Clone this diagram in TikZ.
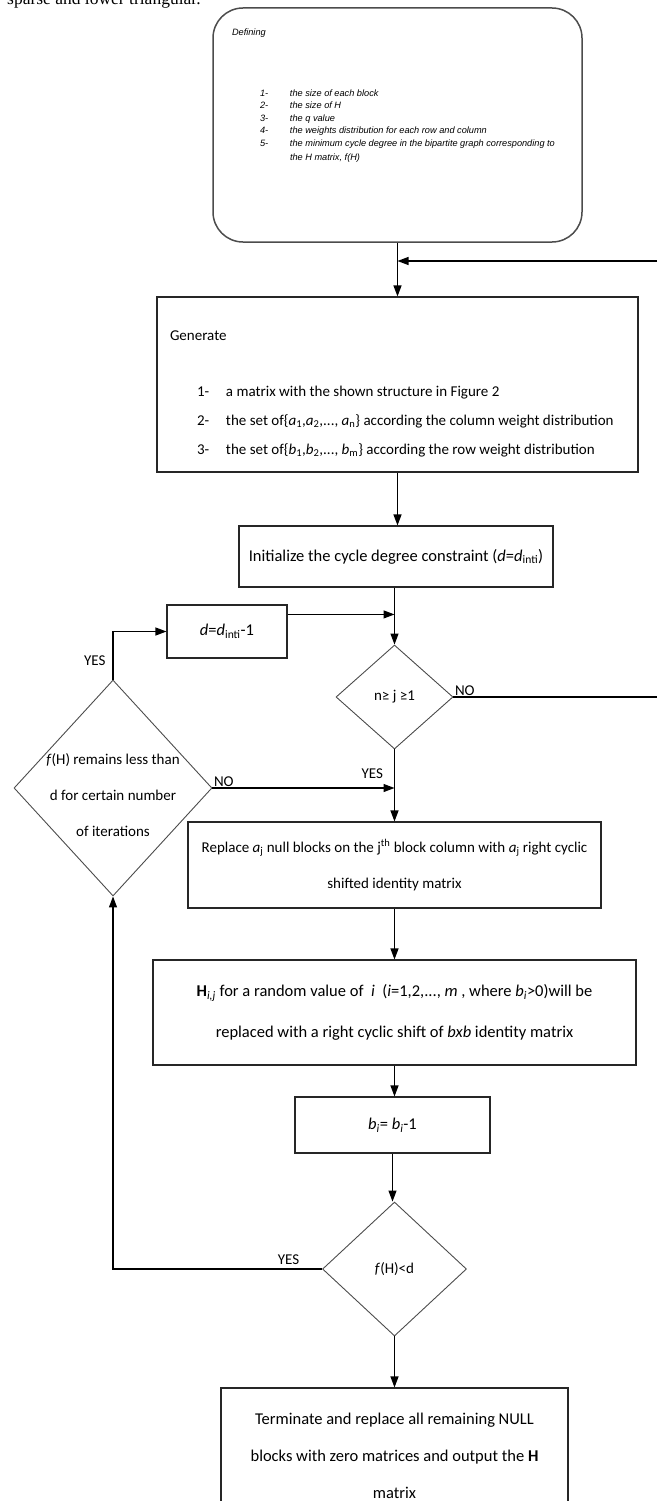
\documentclass[tikz,border=0pt]{standalone}
\usepackage{fontspec}
\setmainfont{Carlito}
\newfontfamily\capfont{Liberation Serif}
\newfontfamily\deffont{Liberation Sans}
\usetikzlibrary{arrows.meta}
\usetikzlibrary{shapes.geometric}

\tikzset{
  box/.style={draw=black!85, line width=1.1pt, inner sep=0pt, align=center, font=\fontsize{16.5}{20}\selectfont},
  decision/.style={draw=black!70, line width=0.9pt, shape=diamond, inner sep=0pt, align=center, font=\fontsize{15}{36}\selectfont},
  flow/.style={line width=1.1pt, ->},
  tag/.style={font=\fontsize{15}{18}\selectfont, inner sep=1pt}
}

\begin{document}
\begin{tikzpicture}[x=1pt, y=-1pt, >={Triangle[length=11pt,width=8pt]}]
\useasboundingbox (0,0) rectangle (657,1501);
\node[anchor=base west, inner sep=0pt, font=\capfont\fontsize{17.5}{20}\selectfont] (capt) at (7,5) {sparse and lower triangular.};

% boxes
\node[box, draw=black!70, line width=1.5pt, rounded corners=30pt] (def) at (397.5,125) {\parbox[c][234pt][t]{369pt}{\deffont\itshape\fontsize{9.2}{12.5}\selectfont
\vspace*{20.5pt}\hspace*{19pt}Defining\\[48.5pt]
\hspace*{47pt}\makebox[30pt][l]{1-}the size of each block\\
\hspace*{47pt}\makebox[30pt][l]{2-}the size of H\\
\hspace*{47pt}\makebox[30pt][l]{3-}the q value\\
\hspace*{47pt}\makebox[30pt][l]{4-}the weights distribution for each row and column\\
\hspace*{47pt}\makebox[30pt][l]{5-}the minimum cycle degree in the bipartite graph corresponding to\\[1.5pt]
\hspace*{77pt}the H matrix, f(H)}};
\node[box] (gen) at (397.5,384.5) {\parbox[c][175pt][t]{481pt}{\fontsize{15}{29}\selectfont
\vspace*{34pt}\hspace*{13pt}Generate\\[27pt]
\hspace*{40pt}\makebox[29pt][l]{1-}a matrix with the shown structure in Figure 2\\
\hspace*{40pt}\makebox[29pt][l]{2-}\mbox{the set of\{\textit{a}\textsubscript{1},\textit{a}\textsubscript{2},..., \textit{a}\textsubscript{n}\} according the column weight distribution}\\
\hspace*{40pt}\makebox[29pt][l]{3-}\mbox{the set of\{\textit{b}\textsubscript{1},\textit{b}\textsubscript{2},..., \textit{b}\textsubscript{m}\} according the row weight distribution}}};
\node[box, minimum width=314pt, minimum height=61pt] (init) at (396,556.5) {Initialize the cycle degree constraint (\textit{d}=\textit{d}\textsubscript{inti})};
\node[box, minimum width=120pt, minimum height=53pt] (dbox) at (227,631.5) {\textit{d}=\textit{d}\textsubscript{inti}-1};
\node[decision, minimum width=117pt, minimum height=104pt] (dec1) at (394.5,697) {n≥ j ≥1};
\node[decision, inner sep=-10pt, minimum width=198pt, minimum height=216pt] (dec2) at (113,788) {\mbox{}\\[-10pt]\textit{f}(H) remains less than\\d for certain number\\of iterations};
\node[box, minimum width=413pt, minimum height=86pt, font=\fontsize{15}{36}\selectfont] (repl) at (394.5,865) {Replace \textit{a}\textsubscript{j} null blocks on the j\textsuperscript{th} block column with \textit{a}\textsubscript{j} right cyclic\\shifted identity matrix};
\node[box, minimum width=483pt, minimum height=105pt, font=\fontsize{16.5}{41}\selectfont] (hbox) at (394.5,1012.5) {\textbf{H}\textsubscript{\textit{i,j}} for a random value of \ \textit{i} \ (\textit{i}=1,2,..., \textit{m} , where \textit{b}\textsubscript{\textit{i}}>0)will be\\replaced with a right cyclic shift of \textit{bxb} identity matrix};
\node[box, minimum width=195pt, minimum height=56pt] (bbox) at (392.5,1125) {\textit{b}\textsubscript{\textit{i}}= \textit{b}\textsubscript{\textit{i}}-1};
\node[decision, minimum width=144pt, minimum height=134pt] (dec3) at (394.5,1269) {\textit{f}(H)<d};
\node[box, minimum width=347pt, minimum height=136pt, font=\fontsize{16.5}{37}\selectfont] (term) at (394.5,1456) {Terminate and replace all remaining NULL\\blocks with zero matrices and output the \textbf{H}\\matrix};

% connectors
\coordinate (rt1) at (657,261);
\coordinate (rt2) at (657,697);
\coordinate (dout) at ([yshift=-10pt]dbox.north east);
\draw[flow] (def.south) -- (def.south |- gen.north);
\draw[flow] (rt1) -- (rt1 -| def.south);
\draw[flow] (gen.south) -- (gen.south |- init.north);
\draw[flow] (init.south -| dec1.north) -- (dec1.north);
\draw[flow] (dout) -- (dout -| dec1.north);
\draw[flow] (dec2.north) |- node[tag, pos=0.2, left=6pt] (yes1) {YES} (dbox.west);
\draw[line width=1.1pt] (dec1.east) -- node[tag, pos=0, above right] (no1) {NO} (rt2);
\draw[flow] (dec1.south) -- node[tag, pos=0.33, left=10pt] (yes2) {YES} (dec1.south |- repl.north);
\draw[flow] (dec2.east) -- node[tag, pos=0, above right] (no2) {NO} (dec2.east -| dec1.south);
\draw[flow] (repl.south) -- (repl.south |- hbox.north);
\draw[flow] (hbox.south) -- (hbox.south |- bbox.north);
\draw[flow] (bbox.south) -- (bbox.south |- dec3.north);
\draw[flow] (dec3.west) -| node[tag, pos=0.08, above=3pt] (yes3) {YES} (dec2.south);
\draw[flow] (dec3.south) -- (dec3.south |- term.north);
\end{tikzpicture}
\end{document}
